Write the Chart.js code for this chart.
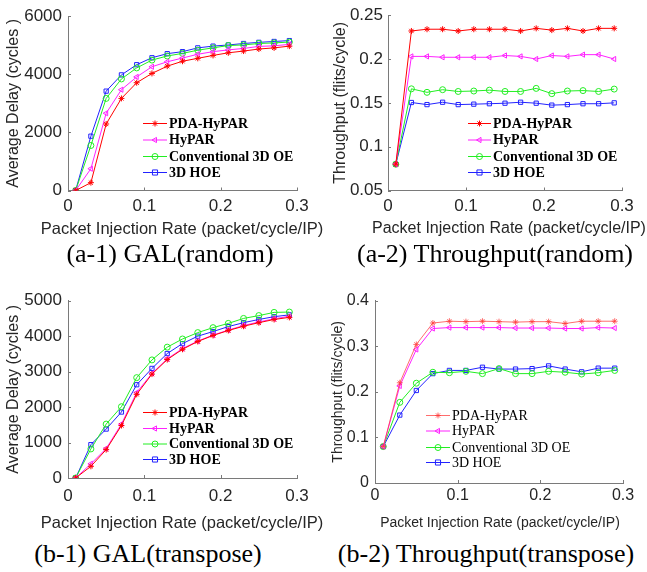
<!DOCTYPE html>
<html>
<head>
<meta charset="utf-8">
<script src="https://cdn.jsdelivr.net/npm/chart.js@4.4.1/dist/chart.umd.min.js"></script>
<style>
  html, body { margin: 0; padding: 0; background: #fff; }
  body { width: 647px; height: 572px; position: relative; overflow: hidden; }
  canvas { position: absolute; }
  .cap { position: absolute; font-family: "Liberation Serif", "Times New Roman", serif; font-size: 26px; color: #000; white-space: nowrap; transform: translate(-50%, -50%); line-height: 1; }
  .xt { position: absolute; font-family: "Liberation Sans", Arial, sans-serif; color: #262626; white-space: nowrap; transform: translate(-50%, -50%); line-height: 1; }
</style>
</head>
<body>
<canvas id="a1" width="320" height="240" style="left:0px;top:0px;width:320px;height:240px"></canvas>
<canvas id="a2" width="327" height="240" style="left:320px;top:0px;width:327px;height:240px"></canvas>
<canvas id="b1" width="320" height="275" style="left:0px;top:260px;width:320px;height:275px"></canvas>
<canvas id="b2" width="327" height="275" style="left:320px;top:260px;width:327px;height:275px"></canvas>
<div class="xt" id="xt-a1" style="left:182px;top:228px;font-size:16.5px"></div>
<div class="xt" id="xt-a2" style="left:509px;top:228px;font-size:16px"></div>
<div class="xt" id="xt-b1" style="left:182px;top:522px;font-size:16.5px"></div>
<div class="xt" id="xt-b2" style="left:500px;top:522px;font-size:14px"></div>
<div class="cap" style="left:170px;top:254px">(a-1) GAL(random)</div>
<div class="cap" style="left:495px;top:254px">(a-2) Throughput(random)</div>
<div class="cap" style="left:148px;top:554px">(b-1) GAL(transpose)</div>
<div class="cap" style="left:486px;top:554px">(b-2) Throughput(transpose)</div>
<script>
// ---------------- data ----------------
const seriesNames = ["PDA-HyPAR", "HyPAR", "Conventional 3D OE", "3D HOE"];
const injectionRates = [0.01, 0.03, 0.05, 0.07, 0.09, 0.11, 0.13, 0.15, 0.17, 0.19, 0.21, 0.23, 0.25, 0.27, 0.29];
const xAxisTitle = "Packet Injection Rate (packet/cycle/IP)";

// (a-1) GAL(random) - Average delay (cycles)
const a1PdaHypar = [0, 270, 2290, 3170, 3710, 4030, 4280, 4450, 4550, 4650, 4740, 4800, 4870, 4910, 4970];
const a1Hypar    = [0, 750, 2660, 3470, 3910, 4260, 4430, 4560, 4690, 4780, 4840, 4890, 4960, 4980, 5030];
const a1Conv3dOe = [0, 1550, 3170, 3840, 4220, 4490, 4630, 4720, 4830, 4910, 4990, 5010, 5060, 5080, 5110];
const a1Hoe3d    = [0, 1870, 3420, 3980, 4330, 4570, 4710, 4780, 4910, 4970, 5010, 5060, 5100, 5130, 5160];

// (a-2) Throughput(random) - flits/cycle
const a2PdaHypar = [0.08, 0.232, 0.234, 0.234, 0.232, 0.234, 0.234, 0.234, 0.232, 0.235, 0.233, 0.235, 0.232, 0.235, 0.235];
const a2Hypar    = [0.08, 0.203, 0.203, 0.202, 0.202, 0.202, 0.202, 0.204, 0.203, 0.200, 0.204, 0.203, 0.205, 0.205, 0.200];
const a2Conv3dOe = [0.08, 0.166, 0.162, 0.165, 0.163, 0.1635, 0.1645, 0.163, 0.163, 0.1665, 0.1605, 0.1635, 0.164, 0.163, 0.1657];
const a2Hoe3d    = [0.08, 0.1504, 0.148, 0.1507, 0.148, 0.1485, 0.149, 0.1496, 0.1507, 0.1496, 0.1474, 0.148, 0.149, 0.149, 0.150];

// (b-1) GAL(transpose) - Average delay (cycles)
const b1PdaHypar = [0, 330, 800, 1480, 2360, 2930, 3340, 3630, 3850, 4020, 4160, 4280, 4380, 4470, 4530];
const b1Hypar    = [0, 400, 830, 1520, 2410, 2950, 3360, 3650, 3860, 4030, 4170, 4300, 4400, 4490, 4560];
const b1Conv3dOe = [0, 820, 1520, 2010, 2830, 3330, 3690, 3920, 4100, 4240, 4360, 4500, 4580, 4670, 4680];
const b1Hoe3d    = [0, 940, 1380, 1860, 2630, 3090, 3510, 3790, 4000, 4130, 4270, 4380, 4470, 4550, 4600];

// (b-2) Throughput(transpose) - flits/cycle
const b2PdaHypar = [0.08, 0.220, 0.304, 0.351, 0.355, 0.354, 0.355, 0.354, 0.353, 0.354, 0.354, 0.350, 0.355, 0.355, 0.355];
const b2Hypar    = [0.08, 0.213, 0.293, 0.339, 0.341, 0.341, 0.341, 0.341, 0.340, 0.340, 0.340, 0.339, 0.339, 0.341, 0.340];
const b2Conv3dOe = [0.08, 0.177, 0.219, 0.243, 0.242, 0.245, 0.240, 0.251, 0.240, 0.240, 0.245, 0.243, 0.239, 0.242, 0.247];
const b2Hoe3d    = [0.08, 0.149, 0.203, 0.240, 0.247, 0.247, 0.254, 0.250, 0.250, 0.251, 0.257, 0.250, 0.244, 0.252, 0.252];

// tick values
const xTicks   = [0, 0.1, 0.2, 0.3];
const a1YTicks = [0, 2000, 4000, 6000];
const a2YTicks = [0.05, 0.1, 0.15, 0.2, 0.25];
const b1YTicks = [0, 1000, 2000, 3000, 4000, 5000];
const b2YTicks = [0, 0.1, 0.2, 0.3, 0.4];

["xt-a1", "xt-a2", "xt-b1", "xt-b2"].forEach(id => { document.getElementById(id).textContent = xAxisTitle; });

// ---------------- style ----------------
const AXIS = "#7a7a7a";
const TXT = "#262626";
const SANS = "'Liberation Sans', Arial, sans-serif";
const SERIF = "'Liberation Serif', 'Times New Roman', serif";

function seriesStyles(pale) {
  return [
    { color: pale ? "rgba(255,60,60,0.75)" : "#ff0000", style: "star", rotation: 0 },
    { color: "#ff22ff", style: "triangle", rotation: -90 },
    { color: "#22ee22", style: "circle", rotation: 0 },
    { color: "#2222ff", style: "rect", rotation: 0 }
  ];
}

function drawMarker(ctx, style, x, y, r, rotation, color) {
  ctx.save();
  ctx.strokeStyle = color;
  ctx.lineWidth = 1;
  ctx.beginPath();
  if (style === "star") {
    for (let k = 0; k < 4; k++) {
      const a = k * Math.PI / 4;
      ctx.moveTo(x - r * Math.cos(a), y - r * Math.sin(a));
      ctx.lineTo(x + r * Math.cos(a), y + r * Math.sin(a));
    }
  } else if (style === "triangle") {
    const base = (rotation - 90) * Math.PI / 180;
    for (let k = 0; k < 3; k++) {
      const a = base + k * 2 * Math.PI / 3;
      const px = x + r * Math.cos(a), py = y + r * Math.sin(a);
      if (k === 0) ctx.moveTo(px, py); else ctx.lineTo(px, py);
    }
    ctx.closePath();
  } else if (style === "circle") {
    ctx.arc(x, y, r, 0, Math.PI * 2);
  } else {
    ctx.rect(x - r * 0.85, y - r * 0.85, r * 1.7, r * 1.7);
  }
  ctx.stroke();
  ctx.restore();
}

const innerTicksPlugin = {
  id: "innerTicks",
  afterDraw(chart) {
    const { ctx, chartArea } = chart;
    const xs = chart.scales.x, ys = chart.scales.y;
    ctx.save();
    ctx.strokeStyle = AXIS;
    ctx.lineWidth = 1;
    ctx.beginPath();
    xs.ticks.forEach(t => {
      const px = Math.round(xs.getPixelForValue(t.value)) + 0.5;
      ctx.moveTo(px, chartArea.bottom);
      ctx.lineTo(px, chartArea.bottom - 3);
    });
    ys.ticks.forEach(t => {
      const py = Math.round(ys.getPixelForValue(t.value)) + 0.5;
      ctx.moveTo(chartArea.left, py);
      ctx.lineTo(chartArea.left + 3, py);
    });
    ctx.stroke();
    ctx.restore();
  }
};

const legendPlugin = {
  id: "inLegend",
  afterDraw(chart, args, opts) {
    const ctx = chart.ctx;
    ctx.save();
    ctx.font = opts.font;
    ctx.fillStyle = "#000";
    ctx.textBaseline = "middle";
    ctx.textAlign = "left";
    chart.data.datasets.forEach((ds, i) => {
      const y = opts.rows[i];
      ctx.strokeStyle = ds.borderColor;
      ctx.lineWidth = 1;
      ctx.beginPath();
      ctx.moveTo(opts.x0, y + 0.5);
      ctx.lineTo(opts.x1, y + 0.5);
      ctx.stroke();
      drawMarker(ctx, ds.pointStyle, (opts.x0 + opts.x1) / 2, y + 0.5, 3, ds.pointRotation || 0, ds.borderColor);
      ctx.fillStyle = "#000";
      ctx.fillText(ds.label, opts.tx, y + 1);
    });
    ctx.restore();
  }
};

function makeChart(id, cfg) {
  const styles = seriesStyles(cfg.pale);
  const datasets = cfg.series.map((vals, i) => ({
    label: seriesNames[i],
    data: injectionRates.map((x, j) => ({ x: x, y: vals[j] })),
    borderColor: styles[i].color,
    backgroundColor: "rgba(0,0,0,0)",
    borderWidth: 1,
    pointStyle: styles[i].style,
    pointRotation: styles[i].rotation,
    pointRadius: 3,
    pointBorderWidth: 1,
    pointBackgroundColor: "rgba(0,0,0,0)",
    pointBorderColor: styles[i].color,
    tension: 0
  }));
  return new Chart(document.getElementById(id), {
    type: "line",
    data: { datasets },
    plugins: [innerTicksPlugin, legendPlugin],
    options: {
      responsive: false,
      animation: false,
      devicePixelRatio: 1,
      layout: { padding: cfg.padding },
      plugins: {
        legend: { display: false },
        tooltip: { enabled: false },
        inLegend: cfg.legend
      },
      scales: {
        x: {
          type: "linear",
          min: 0, max: 0.3,
          afterBuildTicks: s => { s.ticks = xTicks.map(v => ({ value: v })); },
          afterFit: s => { s.height = cfg.xHeight; },
          grid: { display: true, drawOnChartArea: false, drawTicks: false, color: AXIS },
          border: { display: true, color: AXIS, width: 1 },
          ticks: { color: TXT, font: { family: SANS, size: cfg.tickSize }, padding: cfg.xTickPad, maxRotation: 0, callback: v => String(v) },
          title: { display: false }
        },
        y: {
          type: "linear",
          min: cfg.yTicks[0], max: cfg.yTicks[cfg.yTicks.length - 1],
          afterBuildTicks: s => { s.ticks = cfg.yTicks.map(v => ({ value: v })); },
          afterFit: s => { s.width = cfg.yWidth; },
          grid: { display: true, drawOnChartArea: false, drawTicks: false, color: AXIS },
          border: { display: true, color: AXIS, width: 1 },
          ticks: { color: TXT, font: { family: SANS, size: cfg.tickSize }, padding: cfg.yTickPad, callback: v => String(v) },
          title: { display: true, text: cfg.yTitle, color: TXT, font: { family: SANS, size: cfg.yTitleSize }, padding: { top: cfg.yTitlePad, bottom: 0 } }
        }
      }
    }
  });
}

const boldLegendFont = "bold 14px " + SERIF;
const plainLegendFont = "14px " + SERIF;

makeChart("a1", {
  series: [a1PdaHypar, a1Hypar, a1Conv3dOe, a1Hoe3d],
  yTicks: a1YTicks, yTitle: "Average Delay (cycles )",
  padding: { left: 0, top: 13, right: 23, bottom: 0 },
  yWidth: 68, xHeight: 49.5,
  tickSize: 17, yTitleSize: 16,
  xTickPad: 5.8, yTickPad: 6, yTitlePad: 4,
  legend: { font: boldLegendFont, x0: 143, x1: 167, tx: 169, rows: [123, 139.5, 156, 172] }
});

makeChart("a2", {
  series: [a2PdaHypar, a2Hypar, a2Conv3dOe, a2Hoe3d],
  yTicks: a2YTicks, yTitle: "Throughput (flits/cycle)",
  padding: { left: 0, top: 13, right: 25, bottom: 0 },
  yWidth: 68, xHeight: 49.5,
  tickSize: 17, yTitleSize: 16,
  xTickPad: 5.8, yTickPad: 5, yTitlePad: 11,
  legend: { font: boldLegendFont, x0: 148, x1: 171, tx: 173, rows: [123, 139.5, 156, 172] }
});

makeChart("b1", {
  series: [b1PdaHypar, b1Hypar, b1Conv3dOe, b1Hoe3d],
  yTicks: b1YTicks, yTitle: "Average Delay (cycles )",
  padding: { left: 0, top: 40.7, right: 23, bottom: 0 },
  yWidth: 68, xHeight: 57,
  tickSize: 17, yTitleSize: 16,
  xTickPad: 7.8, yTickPad: 6, yTitlePad: 4,
  legend: { font: boldLegendFont, x0: 143, x1: 167, tx: 169, rows: [152, 168, 183.5, 199] }
});

makeChart("b2", {
  series: [b2PdaHypar, b2Hypar, b2Conv3dOe, b2Hoe3d],
  pale: true,
  yTicks: b2YTicks, yTitle: "Throughput (flits/cycle)",
  padding: { left: 0, top: 40.7, right: 24, bottom: 0 },
  yWidth: 55, xHeight: 52,
  tickSize: 16, yTitleSize: 14,
  xTickPad: 3, yTickPad: 6, yTitlePad: 9.6,
  legend: { font: plainLegendFont, x0: 106, x1: 130, tx: 132, rows: [155, 170.5, 187, 202] }
});
</script>
</body>
</html>
